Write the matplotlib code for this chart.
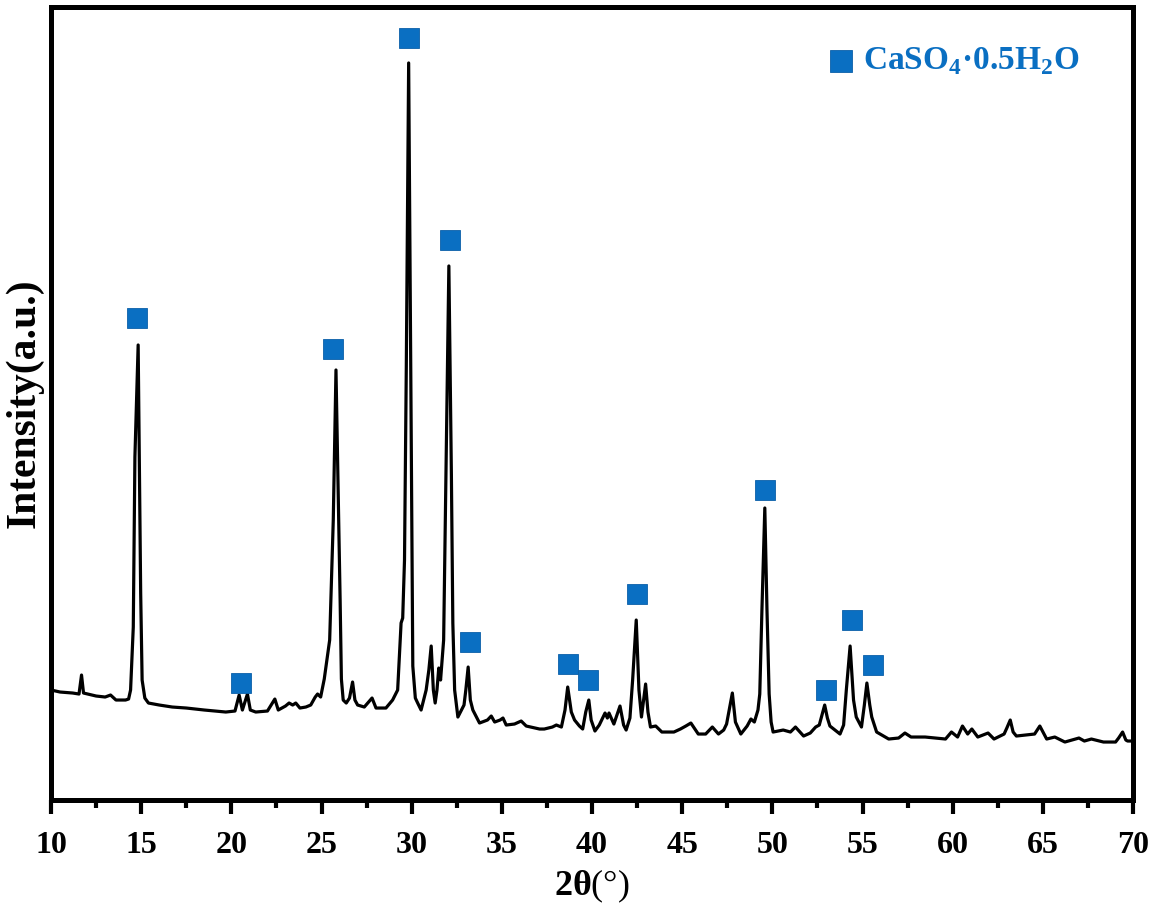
import matplotlib
matplotlib.use("Agg")
import matplotlib.pyplot as plt

# XRD pattern (2theta in degrees, intensity in a.u.)
two_theta = [
    10.0, 10.5, 11.2, 11.55, 11.69, 11.8, 12.5, 13.0, 13.3, 13.6, 14.13, 14.3,
    14.41, 14.56, 14.65, 14.83, 14.97, 15.05, 15.2, 15.4, 16.0, 16.72, 17.5,
    18.5, 19.69, 20.2, 20.43, 20.61, 20.89, 21.05, 21.35, 22.0, 22.41, 22.6,
    23.0, 23.2, 23.4, 23.57, 23.8, 24.13, 24.4, 24.65, 24.78, 24.95, 25.15,
    25.45, 25.54, 25.65, 25.8, 25.95, 26.03, 26.1, 26.2, 26.37, 26.55, 26.72,
    26.85, 27.0, 27.37, 27.8, 28.02, 28.57, 28.94, 29.22, 29.41, 29.5, 29.6,
    29.7, 29.83, 29.98, 30.06, 30.2, 30.33, 30.52, 30.8, 30.95, 31.08, 31.2,
    31.3, 31.4, 31.5, 31.6, 31.77, 31.9, 32.06, 32.2, 32.28, 32.38, 32.56,
    32.9, 33.0, 33.13, 33.25, 33.39, 33.76, 34.2, 34.41, 34.6, 34.9, 35.06,
    35.24, 35.7, 36.07, 36.35, 37.09, 37.35, 37.8, 38.02, 38.3, 38.5, 38.65,
    38.85, 39.03, 39.3, 39.48, 39.65, 39.82, 39.95, 40.16, 40.4, 40.72, 40.85,
    40.94, 41.21, 41.55, 41.75, 41.89, 42.1, 42.25, 42.45, 42.6, 42.74, 42.97,
    43.1, 43.24, 43.53, 43.87, 44.54, 44.9, 45.2, 45.48, 45.89, 46.3, 46.67,
    47.01, 47.3, 47.46, 47.78, 47.95, 48.25, 48.6, 48.81, 49.0, 49.2, 49.3,
    49.42, 49.58, 49.7, 49.82, 49.93, 50.04, 50.6, 51.0, 51.28, 51.73, 52.1,
    52.4, 52.6, 52.9, 53.05, 53.19, 53.75, 53.95, 54.1, 54.31, 54.5, 54.65,
    54.94, 55.1, 55.24, 55.4, 55.51, 55.78, 56.45, 57.0, 57.35, 57.69, 58.47,
    59.6, 59.93, 60.27, 60.54, 60.83, 61.06, 61.39, 61.96, 62.29, 62.85, 63.0,
    63.19, 63.35, 63.53, 64.54, 64.83, 65.21, 65.66, 66.22, 67.0, 67.3, 67.69,
    68.36, 69.03, 69.2, 69.42, 69.6, 69.7, 70.0,
]
intensity = [
    110, 108, 107, 106, 125, 107, 104, 103, 105, 100, 100, 101,
    110, 173, 343, 455, 207, 120, 102, 97, 95, 93, 92,
    90, 88, 89, 105, 90, 106, 90, 88, 89, 101, 90,
    94, 97, 95, 97, 92, 93, 95, 103, 106, 103, 121,
    160, 214, 280, 430, 280, 200, 121, 100, 97, 102, 118,
    100, 95, 93, 102, 92, 92, 100, 110, 177, 182, 240,
    434, 737, 334, 134, 102, 97, 90, 110, 130, 154, 110,
    97, 110, 132, 120, 160, 325, 534, 325, 177, 110, 83,
    95, 110, 133, 100, 90, 77, 80, 84, 78, 80, 82,
    75, 76, 79, 74, 71, 71, 73, 75, 73, 90, 113,
    88, 80, 74, 71, 88, 100, 80, 69, 75, 87, 82,
    87, 76, 94, 75, 70, 82, 120, 180, 110, 83, 116,
    88, 73, 74, 68, 68, 71, 74, 77, 66, 66, 73,
    66, 70, 76, 107, 78, 66, 74, 81, 78, 90, 106,
    190, 292, 190, 106, 78, 68, 70, 68, 73, 64, 67,
    73, 75, 95, 82, 74, 66, 75, 110, 154, 100, 83,
    73, 95, 117, 95, 83, 68, 61, 62, 67, 63, 63,
    61, 68, 63, 74, 66, 71, 63, 67, 61, 66, 72,
    80, 68, 64, 66, 74, 61, 63, 58, 62, 59, 61,
    58, 58, 62, 68, 60, 59, 59,
]

# CaSO4.0.5H2O reflections marked with blue squares
peak_pos = [14.76, 20.54, 25.65, 29.87, 32.15, 33.21, 38.65, 39.76, 42.48,
            49.59, 52.98, 54.43, 55.59]
peak_mark = [482, 117, 451, 762, 560, 158, 136, 120, 206, 310, 110, 180, 135]

blue = "#0A6FC2"

plt.rcParams["font.family"] = "Liberation Serif"
plt.rcParams["font.weight"] = "bold"
plt.rcParams["mathtext.fontset"] = "custom"
plt.rcParams["mathtext.rm"] = "Liberation Serif:weight=normal"
plt.rcParams["mathtext.bf"] = "Liberation Serif:weight=bold"

fig = plt.figure(figsize=(11.55, 9.16), dpi=100)
ax = fig.add_axes([0.0442, 0.1266, 0.9368, 0.8658])

ax.plot(two_theta, intensity, color="black", lw=2.3, solid_joinstyle="round")
ax.plot(peak_pos, peak_mark, ls="none", marker="s", ms=14.5,
        mfc=blue, mec="#0B5FA8", mew=0.6)

ax.set_xlim(10, 70)
ax.set_ylim(0, 793)
ax.set_xticks(range(10, 71, 5))
ax.set_xticks([12.5 + 5 * i for i in range(12)], minor=True)
ax.set_yticks([])

for s in ax.spines.values():
    s.set_linewidth(3.6)
ax.tick_params(axis="x", which="major", direction="out", length=10, width=3,
               labelsize=23, pad=12)
ax.tick_params(axis="x", which="minor", direction="out", length=5.5, width=3)

ax.set_xlabel(r"2θ$\mathrm{(°)}$", fontsize=26, fontweight="bold", labelpad=6)
ax.set_ylabel("Intensity(a.u.)", fontsize=30, fontweight="bold", labelpad=5)

# legend
ax.plot([0.730], [0.932], transform=ax.transAxes, ls="none", marker="s",
        ms=16, mfc=blue, mec="#0B5FA8", mew=0.6, clip_on=False)
ax.text(0.7505, 0.932, r"CaSO$_{\mathbf{4}}$·0.5H$_{\mathbf{2}}$O",
        transform=ax.transAxes, color=blue, fontsize=24, fontweight="bold",
        va="center", ha="left")

fig.savefig("out.png", dpi=100)
